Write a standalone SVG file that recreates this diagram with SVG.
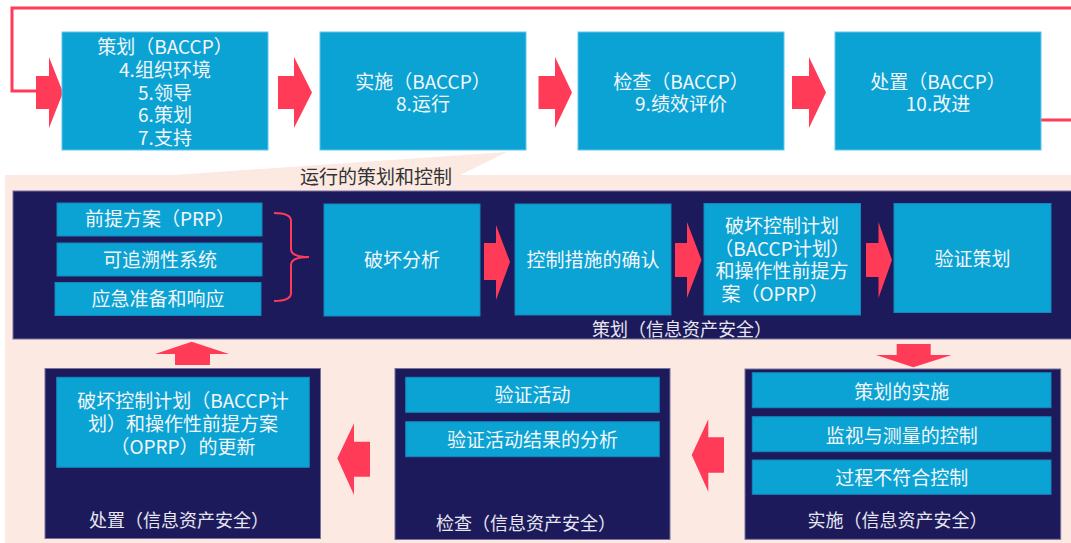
<svg xmlns="http://www.w3.org/2000/svg" width="1071" height="543" viewBox="0 0 1071 543">
<style>
text{font-family:"Noto Sans CJK SC","Noto Sans",sans-serif;text-anchor:middle}
.t{font-size:19px;fill:#f4f6fa}
.lbl{font-size:18px;fill:#e6e6f0}
.top{fill:#0aa3d4;stroke:#5ec6ea;stroke-width:1}
.blue{fill:#0aa3d4;stroke:#1586bb;stroke-width:1}
.navy{fill:#1d1a5b;stroke:#77739c;stroke-width:1}
.arr{fill:#ff3b58}
.line{fill:none;stroke:#ff3b58;stroke-width:3}
</style>
<rect x="0" y="0" width="1071" height="543" fill="#ffffff"/>
<g id="background">
<rect x="5" y="175" width="1070" height="370" fill="#fce9e2"/>
<polygon points="507,152 160,176 458,176" fill="#fce9e2"/>
<text x="300" y="184" style="text-anchor:start;font-size:19px;fill:#333333">运行的策划和控制</text>
</g>
<g id="connectors">
<path class="line" d="M1041,120 H1076 V8 H12 V91 H37"/>
<polygon class="arr" points="36,76 49,76 49,57 63,92.5 49,128 49,109 36,109"/>
<polygon class="arr" points="278,76 294,76 294,57 312,92.5 294,128 294,109 278,109"/>
<polygon class="arr" points="538.5,76 555,76 555,57 572,92.5 555,128 555,109 538.5,109"/>
<polygon class="arr" points="792,76 809,76 809,57 826,92.5 809,128 809,109 792,109"/>
</g>
<g id="n1"><rect class="top" x="62" y="32" width="206" height="118"/>
<text class="t" x="165" y="54">策划（BACCP）</text>
<text class="t" x="165" y="77">4.组织环境</text>
<text class="t" x="165" y="99.5">5.领导</text>
<text class="t" x="165" y="122">6.策划</text>
<text class="t" x="165" y="144.5">7.支持</text></g>
<g id="n2"><rect class="top" x="320" y="32" width="206" height="118"/>
<text class="t" x="423" y="88.5">实施（BACCP）</text>
<text class="t" x="423" y="111">8.运行</text></g>
<g id="n3"><rect class="top" x="578" y="32" width="206" height="118"/>
<text class="t" x="681" y="88.5">检查（BACCP）</text>
<text class="t" x="681" y="111">9.绩效评价</text></g>
<g id="n4"><rect class="top" x="835" y="32" width="206" height="118"/>
<text class="t" x="938" y="88.5">处置（BACCP）</text>
<text class="t" x="938" y="111">10.改进</text></g>

<g id="plan-panel">
<rect class="navy" x="13" y="191" width="1062" height="148"/>
<text class="lbl" x="682" y="335.5">策划（信息资产安全）</text>
</g>
<g id="prp"><rect class="blue" x="57" y="203" width="205" height="33"/><text class="t" x="160" y="226">前提方案（PRP）</text></g>
<g id="trace"><rect class="blue" x="57" y="243" width="205" height="33"/><text class="t" x="160" y="266.5">可追溯性系统</text></g>
<g id="emerg"><rect class="blue" x="55" y="282.5" width="206" height="33"/><text class="t" x="158" y="306">应急准备和响应</text></g>
<g id="brace"><path d="M274,213 Q291,213 291,221 V249 Q291,257 309,257 Q291,257 291,265 V293 Q291,301 274,301" fill="none" stroke="#ff3b58" stroke-width="2"/></g>
<g id="hazard"><rect class="blue" x="324" y="204" width="156" height="112"/><text class="t" x="402" y="267">破坏分析</text></g>
<g id="confirm"><rect class="blue" x="515" y="204" width="156" height="111"/><text class="t" x="593" y="267">控制措施的确认</text></g>
<g id="baccp-plan"><rect class="blue" x="704" y="203.5" width="156.5" height="111.5"/>
<text class="t" x="782" y="233">破坏控制计划</text>
<text class="t" x="782" y="255.7">（BACCP计划）</text>
<text class="t" x="782" y="278.4">和操作性前提方</text>
<text class="t" x="775" y="301">案（OPRP）</text></g>
<g id="verify-plan"><rect class="blue" x="894" y="203.5" width="157" height="109"/><text class="t" x="972.5" y="266">验证策划</text></g>
<g id="mid-arrows">
<polygon class="arr" points="484,243 496,243 496,225 510,262 496,300 496,280 484,280"/>
<polygon class="arr" points="675,243 687,243 687,222 701.5,260 687,298 687,277 675,277"/>
<polygon class="arr" points="866,243 878.5,243 878.5,222 892,260 878.5,298 878.5,277 866,277"/>
<polygon class="arr" points="896.7,344 930.7,344 930.7,355 951.7,355 913.3,367.3 876,355 896.7,355"/>
<polygon class="arr" points="191.7,341.7 229,354 210,354 210,365 175,365 175,354 155,354"/>
<polygon class="arr" points="337.3,458.3 354,423.3 354,441.7 370,441.7 370,476.7 354,476.7 354,495"/>
<polygon class="arr" points="691.7,455 708.3,419.3 708.3,437.3 724,437.3 724,472.7 708.3,472.7 708.3,491.7"/>
</g>

<g id="act-panel">
<rect class="navy" x="45" y="368.5" width="275.5" height="170"/>
<text class="lbl" x="179" y="526.5">处置（信息资产安全）</text>
</g>
<g id="update"><rect class="blue" x="56.7" y="377.3" width="252.6" height="90"/>
<text class="t" x="183" y="407.7">破坏控制计划（BACCP计</text>
<text class="t" x="183" y="431">划）和操作性前提方案</text>
<text class="t" x="183" y="453.7">（OPRP）的更新</text></g>

<g id="check-panel">
<rect class="navy" x="395" y="368.5" width="275" height="171"/>
<text class="lbl" x="526" y="530">检查（信息资产安全）</text>
</g>
<g id="verify-act"><rect class="blue" x="405.7" y="377.3" width="253.6" height="35"/><text class="t" x="532.5" y="402">验证活动</text></g>
<g id="verify-analysis"><rect class="blue" x="405.7" y="421.7" width="253.6" height="35"/><text class="t" x="532.5" y="447">验证活动结果的分析</text></g>

<g id="do-panel">
<rect class="navy" x="745" y="369" width="315.7" height="170.3"/>
<text class="lbl" x="897.5" y="527">实施（信息资产安全）</text>
</g>
<g id="impl"><rect class="blue" x="752.3" y="372.7" width="298.7" height="35"/><text class="t" x="901.7" y="398.7">策划的实施</text></g>
<g id="monitor"><rect class="blue" x="752.3" y="416.7" width="298.7" height="35"/><text class="t" x="901.7" y="443">监视与测量的控制</text></g>
<g id="nonconf"><rect class="blue" x="752.3" y="460" width="298.7" height="34.3"/><text class="t" x="901.7" y="485.3">过程不符合控制</text></g>
</svg>
